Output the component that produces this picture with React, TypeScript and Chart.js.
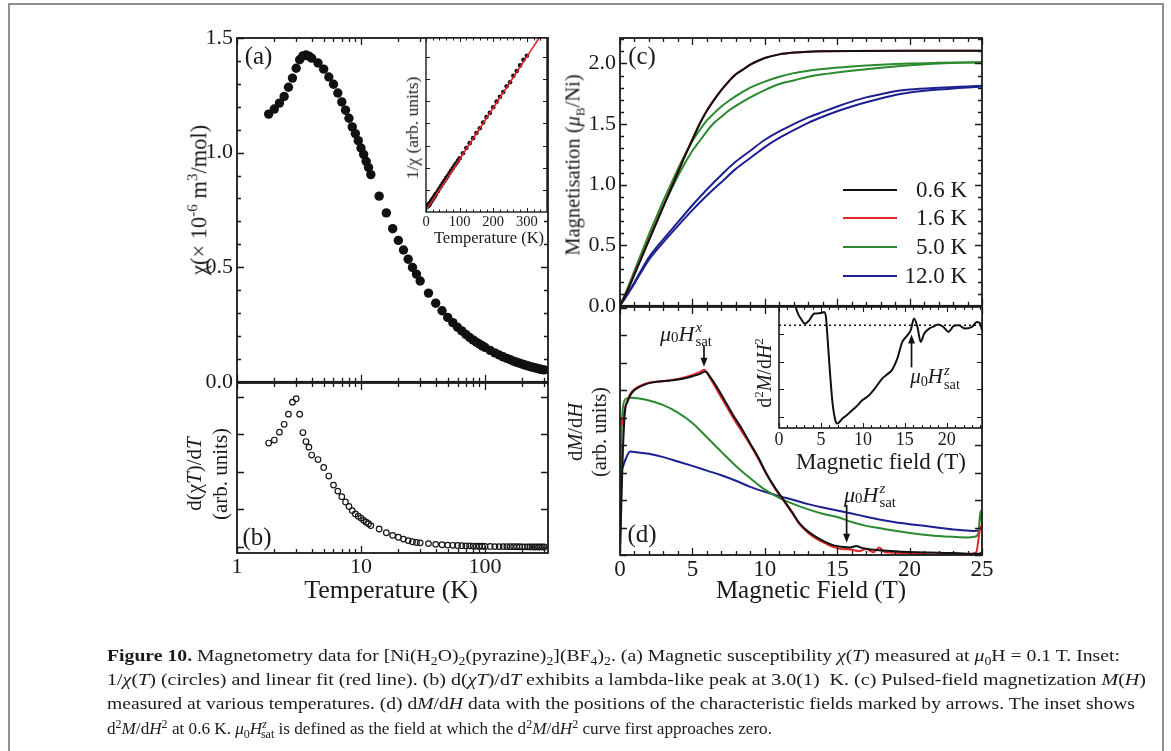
import React, { useEffect, useRef } from "react";
import { Chart, registerables } from "chart.js";
Chart.register(...registerables);

const SERIF = '"Liberation Serif", "Times New Roman", Times, serif';
const INK = "#1a1a1a";

// ---------------- data: panels (a), (b) and inset (a) ----------------
const tempK = [1.8, 2.0, 2.2, 2.4, 2.6, 2.8, 3.0, 3.2, 3.4, 3.6, 3.8,
  4.0, 4.5, 5.0, 5.5, 6.0, 6.5, 7.0, 7.5, 8.0, 8.5, 9.0, 9.5, 10, 10.5, 11, 11.5, 12,
  14, 16, 18, 20, 22, 24, 26, 28, 30,
  35, 40, 45, 50, 55, 60, 65, 70, 75, 80, 85, 90, 95, 100,
  110, 120, 130, 140, 150, 160, 170, 180, 190, 200, 210, 220, 230, 240, 250, 260, 270, 280, 290, 300];
const chiVals = [1.168, 1.19, 1.216, 1.245, 1.285, 1.325, 1.368, 1.405, 1.422, 1.426, 1.421,
  1.412, 1.391, 1.364, 1.33, 1.298, 1.26, 1.221, 1.185, 1.15, 1.112, 1.083, 1.052, 1.02, 0.992, 0.962, 0.935, 0.904,
  0.81, 0.737, 0.668, 0.617, 0.575, 0.535, 0.499, 0.47, 0.44,
  0.387, 0.343, 0.31, 0.281, 0.258, 0.238, 0.222, 0.207, 0.194, 0.183, 0.173, 0.165, 0.157, 0.15,
  0.137, 0.126, 0.117, 0.109, 0.102, 0.096, 0.09, 0.085, 0.081, 0.077, 0.073, 0.07, 0.067, 0.064, 0.062, 0.059, 0.057, 0.055, 0.053, 0.052];
const dChiTdT = [2.77, 2.85, 3.06, 3.27, 3.54, 3.86, 3.95, 3.54, 3.05, 2.81, 2.66,
  2.45, 2.33, 2.12, 1.89, 1.65, 1.49, 1.34, 1.2, 1.08, 0.97, 0.88, 0.82, 0.77, 0.71, 0.66, 0.62, 0.57,
  0.48, 0.38, 0.31, 0.26, 0.21, 0.17, 0.14, 0.12, 0.11,
  0.09, 0.07, 0.06, 0.05, 0.045, 0.04, 0.035, 0.03, 0.03, 0.025, 0.02, 0.02, 0.02, 0.015,
  0.015, 0.01, 0.01, 0.01, 0.01, 0.008, 0.008, 0.006, 0.006, 0.005, 0.005, 0.004, 0.004, 0.003, 0.003, 0.002, 0.002, 0.001, 0.001, 0];
const invChi = [0.86, 0.84, 0.82, 0.8, 0.78, 0.75, 0.73, 0.71, 0.7, 0.7, 0.7,
  0.71, 0.72, 0.73, 0.75, 0.77, 0.79, 0.82, 0.84, 0.87, 0.9, 0.92, 0.95, 0.98, 1.01, 1.04, 1.07, 1.11,
  1.23, 1.36, 1.5, 1.62, 1.74, 1.87, 2.0, 2.13, 2.27,
  2.58, 2.92, 3.23, 3.56, 3.88, 4.2, 4.5, 4.83, 5.15, 5.46, 5.78, 6.06, 6.37, 6.67,
  7.3, 7.94, 8.55, 9.17, 9.8, 10.4, 11.1, 11.8, 12.3, 13.0, 13.7, 14.3, 14.9, 15.6, 16.1, 16.9, 17.5, 18.2, 18.9, 19.4];
const fitT = [0, 360];
const fitInv = [0.19, 23.1];

// ---------------- data: panel (c) M(H) ----------------
const fieldBlackC = [0, 0.5, 1, 1.5, 2, 2.5, 3, 3.5, 4, 4.5, 5, 5.5, 6, 6.5, 7, 7.5, 8, 8.5, 9, 9.5, 10, 11, 12, 13, 14, 16, 20, 25];
const mag06K = [0, 0.12, 0.26, 0.4, 0.54, 0.68, 0.82, 0.96, 1.1, 1.24, 1.37, 1.5, 1.61, 1.7, 1.78, 1.85, 1.91, 1.95, 1.99, 2.02, 2.045, 2.075, 2.09, 2.097, 2.1, 2.103, 2.105, 2.105];
const mag16K = [0, 0.125, 0.265, 0.405, 0.545, 0.685, 0.825, 0.965, 1.105, 1.245, 1.375, 1.503, 1.612, 1.702, 1.781, 1.851, 1.911, 1.951, 1.99, 2.02, 2.045, 2.075, 2.09, 2.097, 2.1, 2.103, 2.105, 2.105];
const fieldGreenC = [0, 0.5, 1, 1.5, 2, 2.5, 3, 3.5, 4, 4.5, 5, 5.5, 6, 6.5, 7, 7.5, 8, 9, 10, 11, 12, 13, 14, 16, 18, 20, 22, 25];
const mag50KUp = [0, 0.14, 0.29, 0.44, 0.59, 0.73, 0.87, 1.0, 1.13, 1.25, 1.36, 1.45, 1.53, 1.59, 1.645, 1.69, 1.73, 1.8, 1.85, 1.89, 1.92, 1.94, 1.955, 1.975, 1.99, 2.0, 2.005, 2.01];
const mag50KDown = [0, 0.13, 0.27, 0.42, 0.56, 0.7, 0.83, 0.95, 1.07, 1.18, 1.28, 1.36, 1.44, 1.51, 1.56, 1.61, 1.65, 1.72, 1.78, 1.83, 1.86, 1.89, 1.91, 1.94, 1.965, 1.985, 2.0, 2.01];
const fieldBlueC = [0, 0.5, 1, 1.5, 2, 3, 4, 5, 6, 7, 8, 9, 10, 11, 12, 13, 14, 15, 16, 17, 18, 19, 20, 22, 25];
const mag120KUp = [0, 0.095, 0.195, 0.3, 0.4, 0.55, 0.69, 0.83, 0.96, 1.08, 1.19, 1.28, 1.37, 1.44, 1.5, 1.555, 1.6, 1.645, 1.685, 1.72, 1.745, 1.77, 1.785, 1.8, 1.815];
const mag120KDown = [0, 0.09, 0.185, 0.285, 0.38, 0.525, 0.66, 0.79, 0.91, 1.02, 1.13, 1.22, 1.31, 1.385, 1.45, 1.51, 1.56, 1.605, 1.645, 1.68, 1.71, 1.74, 1.76, 1.785, 1.81];

// ---------------- data: panel (d) dM/dH ----------------
const fieldBlackD = [0, 0.1, 0.2, 0.35, 0.5, 0.7, 1.0, 1.5, 2.0, 2.5, 3.0, 3.5, 4.0, 4.5, 5.0, 5.5, 5.9, 6.2, 6.7, 7.2, 7.8, 8.4, 9.0, 9.6, 10.1, 10.7, 11.3, 11.9, 12.4, 13.0, 13.6, 14.2, 14.7, 15.3, 15.9, 16.3, 16.7, 17.1, 18.2, 19.5, 20.5, 22, 23, 24, 24.8, 25];
const dMdH06K = [0.06, 2.0, 3.8, 5.27, 5.55, 5.8, 6.0, 6.15, 6.25, 6.3, 6.33, 6.35, 6.38, 6.43, 6.5, 6.58, 6.67, 6.5, 6.1, 5.65, 5.1, 4.6, 4.05, 3.5, 2.97, 2.45, 2.0, 1.55, 1.15, 0.85, 0.64, 0.47, 0.36, 0.3, 0.27, 0.33, 0.26, 0.22, 0.16, 0.12, 0.1, 0.08, 0.07, 0.05, 0.05, 0.1];
const fieldRedD = [0, 0.1, 0.2, 0.35, 0.5, 0.7, 1, 1.5, 2, 2.5, 3, 3.5, 4, 4.5, 5, 5.5, 5.8, 6.2, 6.7, 7.2, 7.8, 8.4, 9.0, 9.6, 10.1, 10.7, 11.3, 11.9, 12.4, 13.0, 13.6, 14.2, 14.7, 15.3, 15.9, 16.5, 17.0, 17.5, 17.9, 18.3, 19, 20, 21, 22, 23, 24, 24.6, 24.85, 25];
const dMdH16K = [5.0, 4.7, 4.9, 5.35, 5.6, 5.85, 6.03, 6.18, 6.27, 6.3, 6.32, 6.36, 6.4, 6.47, 6.55, 6.65, 6.74, 6.45, 6.0, 5.55, 5.0, 4.5, 4.0, 3.45, 2.95, 2.42, 1.98, 1.52, 1.12, 0.8, 0.58, 0.42, 0.3, 0.22, 0.2, 0.14, 0.22, 0.1, 0.27, 0.1, 0.08, 0.06, 0.03, 0.02, 0.06, 0.02, 0.1, 0.9, 1.1];
const fieldGreenD = [0, 0.08, 0.3, 0.5, 0.8, 1.2, 2.0, 3.0, 4.0, 5.0, 6.0, 7.0, 8.0, 9.0, 10.0, 11.0, 12.0, 13.0, 14.0, 15.0, 16.0, 17.0, 18.0, 19.0, 20.0, 21.0, 22.0, 23.0, 24.0, 24.5, 24.75, 24.9, 25];
const dMdH50K = [0.05, 4.0, 5.6, 5.7, 5.72, 5.7, 5.62, 5.45, 5.18, 4.8, 4.28, 3.75, 3.24, 2.79, 2.38, 2.08, 1.85, 1.66, 1.5, 1.38, 1.2, 1.06, 0.97, 0.88, 0.8, 0.74, 0.69, 0.66, 0.64, 0.66, 0.8, 1.6, 1.1];
const fieldBlueD = [0, 0.05, 0.2, 0.4, 0.7, 1.0, 2.0, 3.0, 4.0, 5.0, 6.0, 7.0, 8.0, 9.0, 10.0, 11.0, 12.0, 13.0, 14.0, 15.0, 16.0, 17.0, 18.0, 19.0, 20.0, 21.0, 22.0, 23.0, 24.0, 24.5, 24.8, 25];
const dMdH120K = [0.05, 2.5, 3.2, 3.5, 3.76, 3.75, 3.68, 3.56, 3.4, 3.24, 3.07, 2.9, 2.7, 2.48, 2.3, 2.14, 2.0, 1.85, 1.73, 1.62, 1.51, 1.39, 1.28, 1.19, 1.12, 1.06, 0.99, 0.93, 0.89, 0.87, 0.93, 1.05];

// ---------------- data: inset (d) d2M/dH2 at 0.6 K ----------------
const fieldInsetD = [1.8, 2.0, 2.3, 2.6, 3.1, 3.6, 4.2, 5.0, 5.4, 5.6, 5.75, 6.03, 6.35, 6.67, 6.94, 7.54, 8.1, 8.73, 9.3, 9.92, 10.7, 11.5, 12.3, 12.9, 13.5, 14.1, 14.7, 15.3, 15.7, 16.1, 16.5, 16.9, 17.3, 17.9, 18.5, 19.0, 19.6, 20.2, 20.8, 21.4, 22.2, 23.0, 23.6, 24.0, 24.2];
const d2MdH2 = [1.6, 1.0, 0.6, 0.37, 0.09, 0.27, 0.64, 0.67, 0.73, 0.45, -0.45, -2.28, -4.1, -5.1, -5.37, -5.1, -4.9, -4.64, -4.4, -4.1, -3.83, -3.4, -2.91, -2.68, -2.42, -1.82, -0.91, -0.55, -0.27, 0.37, -0.09, -0.91, -0.46, -0.18, -0.05, 0.05, -0.09, -0.36, -0.05, 0, -0.18, -0.09, 0.18, 0.09, -0.27];
const zeroLineField = [0, 24.2];
const zeroLineVal = [0, 0];

// ---------------- tick values ----------------
const logMajor = [1, 10, 100];
const logMinor = [2, 3, 4, 5, 6, 7, 8, 9, 20, 30, 40, 50, 60, 70, 80, 90, 200, 300];
const chiTicks = [0, 0.5, 1.0, 1.5];
const chiMinor = [0.1, 0.2, 0.3, 0.4, 0.6, 0.7, 0.8, 0.9, 1.1, 1.2, 1.3, 1.4];
const derivTicks = [0, 1, 2, 3, 4];
const insetTTicks = [0, 100, 200, 300];
const insetTMinor = [20, 40, 60, 80, 120, 140, 160, 180, 220, 240, 260, 280, 320, 340];
const insetInvTicks = [2.75, 5.5, 8.25, 11, 13.75, 16.5, 19.25];
const fieldTicks = [0, 5, 10, 15, 20, 25];
const fieldMinor = [1, 2, 3, 4, 6, 7, 8, 9, 11, 12, 13, 14, 16, 17, 18, 19, 21, 22, 23, 24];
const magTicks = [0, 0.5, 1.0, 1.5, 2.0];
const magMinor = [0.1, 0.2, 0.3, 0.4, 0.6, 0.7, 0.8, 0.9, 1.1, 1.2, 1.3, 1.4, 1.6, 1.7, 1.8, 1.9, 2.1, 2.2];
const dmdhTicks = [0, 1, 2, 3, 4, 5, 6, 7, 8, 9];
const insetFieldTicks = [0, 5, 10, 15, 20];
const insetD2Ticks = [-5, -3.5, -2, -0.5];

const legendItems = [
  { label: "0.6 K", color: "#111111" },
  { label: "1.6 K", color: "#e3262b" },
  { label: "5.0 K", color: "#2b8a2f" },
  { label: "12.0 K", color: "#1d2090" },
];

// ---------------- helpers ----------------
const pts = (xs: number[], ys: number[]) => xs.map((x, i) => ({ x, y: ys[i] }));

const framePlugin = {
  id: "frame",
  beforeDatasetsDraw(chart: any, _a: any, o: any) {
    if (!o || !o.fill) return;
    const { ctx, chartArea: a } = chart;
    ctx.save();
    ctx.fillStyle = "#ffffff";
    ctx.fillRect(a.left, a.top, a.right - a.left, a.bottom - a.top);
    ctx.restore();
  },
  afterDatasetsDraw(chart: any, _a: any, o: any) {
    if (!o || !o.xMajor) return;
    const { ctx, chartArea: a, scales } = chart;
    const xs = scales.x;
    const ys = scales.y;
    ctx.save();
    ctx.strokeStyle = INK;
    ctx.lineWidth = o.tickW || 1.3;
    ctx.beginPath();
    const xt = (vals: number[], len: number) =>
      vals.forEach((v) => {
        const p = Math.round(xs.getPixelForValue(v)) + 0.5;
        if (p < a.left - 1 || p > a.right + 1) return;
        ctx.moveTo(p, a.bottom);
        ctx.lineTo(p, a.bottom - len);
        ctx.moveTo(p, a.top);
        ctx.lineTo(p, a.top + len);
      });
    const yt = (vals: number[], len: number) =>
      vals.forEach((v) => {
        const p = Math.round(ys.getPixelForValue(v)) + 0.5;
        if (p < a.top - 1 || p > a.bottom + 1) return;
        ctx.moveTo(a.left, p);
        ctx.lineTo(a.left + len, p);
        ctx.moveTo(a.right, p);
        ctx.lineTo(a.right - len, p);
      });
    xt(o.xMajor, o.majorLen);
    xt(o.xMinor || [], o.minorLen);
    yt(o.yMajor, o.majorLen);
    yt(o.yMinor || [], o.minorLen);
    ctx.stroke();
    ctx.lineWidth = o.lw || 1.8;
    ctx.strokeRect(a.left, a.top, a.right - a.left, a.bottom - a.top);
    (o.arrows || []).forEach((ar: any) => {
      const px = xs.getPixelForValue(ar.x);
      const p1 = ys.getPixelForValue(ar.y1);
      const p2 = ys.getPixelForValue(ar.y2);
      const dir = p2 > p1 ? 1 : -1;
      ctx.lineWidth = 1.7;
      ctx.strokeStyle = "#111";
      ctx.beginPath();
      ctx.moveTo(px, p1);
      ctx.lineTo(px, p2 - dir * 6);
      ctx.stroke();
      ctx.fillStyle = "#111";
      ctx.beginPath();
      ctx.moveTo(px, p2);
      ctx.lineTo(px - 3.5, p2 - dir * 9);
      ctx.lineTo(px + 3.5, p2 - dir * 9);
      ctx.closePath();
      ctx.fill();
    });
    ctx.restore();
  },
};

function axis(a: any, isX: boolean, size: number) {
  return {
    type: a.type || "linear",
    min: a.min,
    max: a.max,
    display: true,
    grid: { display: false, drawTicks: false },
    border: { display: false },
    title: { display: false },
    ticks: {
      display: !!a.labels,
      autoSkip: false,
      maxRotation: 0,
      minRotation: 0,
      padding: a.pad ?? 3,
      color: INK,
      font: { family: SERIF, size: a.font || 22 },
      callback: (v: any) => (a.fmt ? a.fmt(Number(v)) : String(v)),
    },
    afterBuildTicks: (s: any) => {
      if (a.labels) s.ticks = a.labels.map((v: number) => ({ value: v }));
    },
    afterFit: (s: any) => {
      if (isX) s.height = size;
      else s.width = size;
    },
  };
}

type M = { l: number; t: number; r: number; b: number };
type P = { x: number; y: number; w: number; h: number };

function Panel({ plot, m, datasets, xAxis, yAxis, frame }: { plot: P; m: M; datasets: any[]; xAxis: any; yAxis: any; frame: any }) {
  const ref = useRef<HTMLCanvasElement | null>(null);
  const w = plot.w + m.l + m.r;
  const h = plot.h + m.t + m.b;
  useEffect(() => {
    if (!ref.current) return;
    const chart = new Chart(ref.current, {
      type: "scatter",
      data: { datasets },
      plugins: [framePlugin as any],
      options: {
        responsive: false,
        maintainAspectRatio: false,
        animation: false,
        devicePixelRatio: 1,
        events: [],
        layout: { padding: { left: 0, top: m.t, right: m.r, bottom: 0 } },
        plugins: { legend: { display: false }, tooltip: { enabled: false }, frame } as any,
        scales: { x: axis(xAxis, true, m.b) as any, y: axis(yAxis, false, m.l) as any },
      },
    });
    return () => chart.destroy();
  }, []);
  return (
    <canvas
      ref={ref}
      width={w}
      height={h}
      style={{ position: "absolute", left: plot.x - m.l, top: plot.y - m.t, width: w, height: h }}
    />
  );
}

const line = (data: any[], color: string, width = 2, extra: any = {}) => ({
  data,
  showLine: true,
  borderColor: color,
  backgroundColor: color,
  borderWidth: width,
  pointRadius: 0,
  cubicInterpolationMode: "monotone",
  ...extra,
});

function Txt({ x, y, size, rot, children, lh, style }: any) {
  return (
    <div
      style={{
        position: "absolute",
        left: x,
        top: y,
        transform: `translate(-50%, -50%)${rot ? " rotate(-90deg)" : ""}`,
        fontFamily: SERIF,
        fontSize: size,
        lineHeight: lh ? `${lh}px` : 1.15,
        whiteSpace: "nowrap",
        textAlign: "center",
        color: INK,
        ...style,
      }}
    >
      {children}
    </div>
  );
}

function MuH({ sup, size }: { sup: string; size: number }) {
  const s = size * 0.68;
  return (
    <span style={{ display: "inline-flex", alignItems: "center" }}>
      <i>μ</i>
      <span style={{ fontSize: s, position: "relative", top: size * 0.22 }}>0</span>
      <i>H</i>
      <span style={{ display: "inline-flex", flexDirection: "column", fontSize: s, lineHeight: 0.95, marginLeft: 1, position: "relative", top: 1 }}>
        <i style={{ textAlign: "left" }}>{sup}</i>
        <span>sat</span>
      </span>
    </span>
  );
}

type Seg = [string, string?, number?];
function renderSegs(list: Seg[], base: number) {
  let shift = 0;
  return list.map(([t, s, dx], i) => {
    const isSub = s === "sub";
    const isSup = s === "sup" || s === "supi";
    const target = isSub ? 4 : isSup ? -6 : 0;
    const dy = target - shift;
    shift = target;
    return (
      <tspan
        key={i}
        dy={dy || undefined}
        dx={dx || undefined}
        fontSize={isSub || isSup ? base * 0.7 : undefined}
        fontWeight={s === "b" ? "bold" : undefined}
        fontStyle={s === "i" || s === "supi" ? "italic" : undefined}
      >
        {t}
      </tspan>
    );
  });
}

const captionLines: { segs: Seg[]; y: number; len: number }[] = [
  {
    y: 661,
    len: 1013,
    segs: [["Figure 10.", "b"], [" Magnetometry data for [Ni(H"], ["2", "sub"], ["O)"], ["2", "sub"], ["(pyrazine)"], ["2", "sub"], ["](BF"], ["4", "sub"], [")"], ["2", "sub"], [". (a) Magnetic susceptibility "], ["χ", "i"], ["("], ["T", "i"], [") measured at "], ["μ", "i"], ["0", "sub"], ["H = 0.1 T. Inset:"]],
  },
  {
    y: 685,
    len: 1039,
    segs: [["1/"], ["χ", "i"], ["("], ["T", "i"], [") (circles) and linear fit (red line). (b) d("], ["χT", "i"], [")/d"], ["T", "i"], [" exhibits a lambda-like peak at 3.0(1)  K. (c) Pulsed-field magnetization "], ["M", "i"], ["("], ["H", "i"], [")"]],
  },
  {
    y: 709,
    len: 1028,
    segs: [["measured at various temperatures. (d) d"], ["M", "i"], ["/d"], ["H", "i"], [" data with the positions of the characteristic fields marked by arrows. The inset shows"]],
  },
  {
    y: 734,
    len: 665,
    segs: [["d"], ["2", "sup"], ["M", "i"], ["/d"], ["H", "i"], ["2", "sup"], [" at 0.6 K. "], ["μ", "i"], ["0", "sub"], ["H", "i"], ["z", "supi"], ["sat", "sub", -6], [" is defined as the field at which the d"], ["2", "sup"], ["M", "i"], ["/d"], ["H", "i"], ["2", "sup"], [" curve first approaches zero."]],
  },
];

export default function App() {
  const fmt1 = (v: number) => v.toFixed(1);
  const fmt0 = (v: number) => String(v);
  return (
    <div style={{ position: "absolute", left: 0, top: 0, width: 1171, height: 751, overflow: "hidden", background: "#fff", fontFamily: SERIF }}>
      <div style={{ position: "absolute", left: 8, top: 3, width: 1156, height: 800, border: "2px solid #8e8e8e", boxSizing: "border-box" }} />

      {/* (a) */}
      <Panel
        plot={{ x: 237, y: 38, w: 311, h: 345 }}
        m={{ l: 55, t: 20, r: 8, b: 16 }}
        datasets={[{ data: pts(tempK, chiVals), pointRadius: 4.7, backgroundColor: "#111", borderWidth: 0 }]}
        xAxis={{ type: "logarithmic", min: 1, max: 322 }}
        yAxis={{ min: 0, max: 1.5, labels: chiTicks, fmt: fmt1, font: 22, pad: 4 }}
        frame={{ xMajor: logMajor, xMinor: logMinor, yMajor: chiTicks, yMinor: chiMinor, majorLen: 7, minorLen: 4, lw: 1.8 }}
      />
      {/* inset (a) */}
      <Panel
        plot={{ x: 426, y: 38, w: 121, h: 174 }}
        m={{ l: 16, t: 16, r: 8, b: 34 }}
        datasets={[
          line(pts(fitT, fitInv), "#e3262b", 1.6, { cubicInterpolationMode: "default", tension: 0 }),
          { data: pts(tempK, invChi), pointRadius: 2.3, backgroundColor: "#111", borderWidth: 0 },
        ]}
        xAxis={{ min: 0, max: 360, labels: insetTTicks, fmt: fmt0, font: 14.5, pad: 1 }}
        yAxis={{ min: 0, max: 21.6 }}
        frame={{ xMajor: insetTTicks, xMinor: insetTMinor, yMajor: insetInvTicks, majorLen: 4, minorLen: 2.5, lw: 1.4, tickW: 1, fill: true }}
      />
      {/* (b) */}
      <Panel
        plot={{ x: 237, y: 383, w: 311, h: 170 }}
        m={{ l: 20, t: 16, r: 12, b: 32 }}
        datasets={[{ data: pts(tempK, dChiTdT), pointRadius: 2.8, backgroundColor: "rgba(255,255,255,0)", borderColor: "#151515", borderWidth: 1.2 }]}
        xAxis={{ type: "logarithmic", min: 1, max: 322, labels: logMajor, fmt: fmt0, font: 22, pad: 1 }}
        yAxis={{ min: -0.16, max: 4.37 }}
        frame={{ xMajor: logMajor, xMinor: logMinor, yMajor: derivTicks, majorLen: 7, minorLen: 4, lw: 1.8 }}
      />
      {/* (c) */}
      <Panel
        plot={{ x: 620, y: 38, w: 362, h: 269 }}
        m={{ l: 50, t: 20, r: 12, b: 16 }}
        datasets={[
          line(pts(fieldBlackC, mag06K), "#111111", 2),
          line(pts(fieldBlackC, mag16K), "#e3262b", 2),
          line(pts(fieldGreenC, mag50KUp), "#2b8a2f", 2),
          line(pts(fieldGreenC, mag50KDown), "#2b8a2f", 2),
          line(pts(fieldBlueC, mag120KUp), "#1d2090", 2),
          line(pts(fieldBlueC, mag120KDown), "#1d2090", 2),
        ]}
        xAxis={{ min: 0, max: 25 }}
        yAxis={{ min: 0, max: 2.21, labels: magTicks, fmt: fmt1, font: 22, pad: 4 }}
        frame={{ xMajor: fieldTicks, xMinor: fieldMinor, yMajor: magTicks, yMinor: magMinor, majorLen: 7, minorLen: 4, lw: 1.8 }}
      />
      {/* (d) */}
      <Panel
        plot={{ x: 620, y: 307, w: 362, h: 248 }}
        m={{ l: 20, t: 16, r: 20, b: 32 }}
        datasets={[
          line(pts(fieldBlackD, dMdH06K), "#111111", 2),
          line(pts(fieldRedD, dMdH16K), "#e3262b", 2),
          line(pts(fieldGreenD, dMdH50K), "#2b8a2f", 2),
          line(pts(fieldBlueD, dMdH120K), "#1d2090", 2),
        ]}
        xAxis={{ min: 0, max: 25, labels: fieldTicks, fmt: fmt0, font: 23, pad: 1 }}
        yAxis={{ min: 0, max: 9.02 }}
        frame={{
          xMajor: fieldTicks, xMinor: fieldMinor, yMajor: dmdhTicks, majorLen: 7, minorLen: 4, lw: 1.8,
          arrows: [
            { x: 5.8, y1: 7.6, y2: 6.85 },
            { x: 15.65, y1: 1.82, y2: 0.45 },
          ],
        }}
      />
      {/* inset (d) */}
      <Panel
        plot={{ x: 779, y: 307, w: 203, h: 121 }}
        m={{ l: 16, t: 16, r: 10, b: 28 }}
        datasets={[
          line(pts(fieldInsetD, d2MdH2), "#111111", 2),
          line(pts(zeroLineField, zeroLineVal), "#111111", 1.6, { borderDash: [2, 3], cubicInterpolationMode: "default", tension: 0 }),
        ]}
        xAxis={{ min: 0, max: 24.2, labels: insetFieldTicks, fmt: fmt0, font: 18, pad: 1 }}
        yAxis={{ min: -5.61, max: 1.0 }}
        frame={{
          xMajor: insetFieldTicks, xMinor: fieldMinor, yMajor: insetD2Ticks, majorLen: 5, minorLen: 3, lw: 1.6, tickW: 1.1, fill: true,
          arrows: [{ x: 15.8, y1: -2.3, y2: -0.5 }],
        }}
      />

      {/* panel letters */}
      <Txt x={258.5} y={56} size={25}>(a)</Txt>
      <Txt x={257} y={537} size={25}>(b)</Txt>
      <Txt x={642} y={56} size={25}>(c)</Txt>
      <Txt x={642} y={534} size={25}>(d)</Txt>

      {/* axis titles */}
      <Txt x={198} y={200} size={22.5} rot>
        χ(× 10<sup style={{ fontSize: 15 }}>-6</sup> m<sup style={{ fontSize: 15 }}>3</sup>/mol)
      </Txt>
      <Txt x={207} y={474} size={21} rot lh={26}>
        <div>d(χ<i>T</i>)/d<i>T</i></div>
        <div>(arb. units)</div>
      </Txt>
      <Txt x={412} y={128} size={17.5} rot>1/χ (arb. units)</Txt>
      <Txt x={489} y={238} size={16.5}>Temperature (K)</Txt>
      <Txt x={391} y={590} size={26}>Temperature (K)</Txt>
      <Txt x={575} y={165} size={20.5} rot>
        Magnetisation (<i>μ</i><sub style={{ fontSize: 13 }}>B</sub>/Ni)
      </Txt>
      <Txt x={587} y={432} size={20.5} rot lh={24}>
        <div>d<i>M</i>/d<i>H</i></div>
        <div>(arb. units)</div>
      </Txt>
      <Txt x={811} y={590} size={25}>Magnetic Field (T)</Txt>
      <Txt x={881} y={462} size={23}>Magnetic field (T)</Txt>
      <Txt x={764} y={373} size={20} rot>
        d<sup style={{ fontSize: 13 }}>2</sup><i>M</i>/d<i>H</i><sup style={{ fontSize: 13 }}>2</sup>
      </Txt>

      {/* annotations */}
      <Txt x={686} y={333} size={22}><MuH sup="x" size={22} /></Txt>
      <Txt x={870} y={494} size={22}><MuH sup="z" size={22} /></Txt>
      <Txt x={935} y={377} size={21}><MuH sup="z" size={21} /></Txt>

      {/* legend (c) */}
      {legendItems.map((it, i) => {
        const y = [190, 218, 247, 276][i];
        return (
          <React.Fragment key={it.label}>
            <div style={{ position: "absolute", left: 843, top: y - 1.25, width: 54, height: 2.5, background: it.color }} />
            <div style={{ position: "absolute", left: 900, width: 67, top: y - 14, height: 28, lineHeight: "28px", textAlign: "right", fontFamily: SERIF, fontSize: 23, color: INK }}>
              {it.label}
            </div>
          </React.Fragment>
        );
      })}

      {/* caption */}
      <svg width={1171} height={751} style={{ position: "absolute", left: 0, top: 0, pointerEvents: "none" }}>
        {captionLines.map((ln, i) => (
          <text
            key={i}
            x={107}
            y={ln.y}
            fontFamily={SERIF}
            fontSize={17}
            fill="#1a1a1a"
            textLength={ln.len}
            lengthAdjust="spacingAndGlyphs"
            style={{ whiteSpace: "pre" }}
          >
            {renderSegs(ln.segs, 17)}
          </text>
        ))}
      </svg>
    </div>
  );
}
